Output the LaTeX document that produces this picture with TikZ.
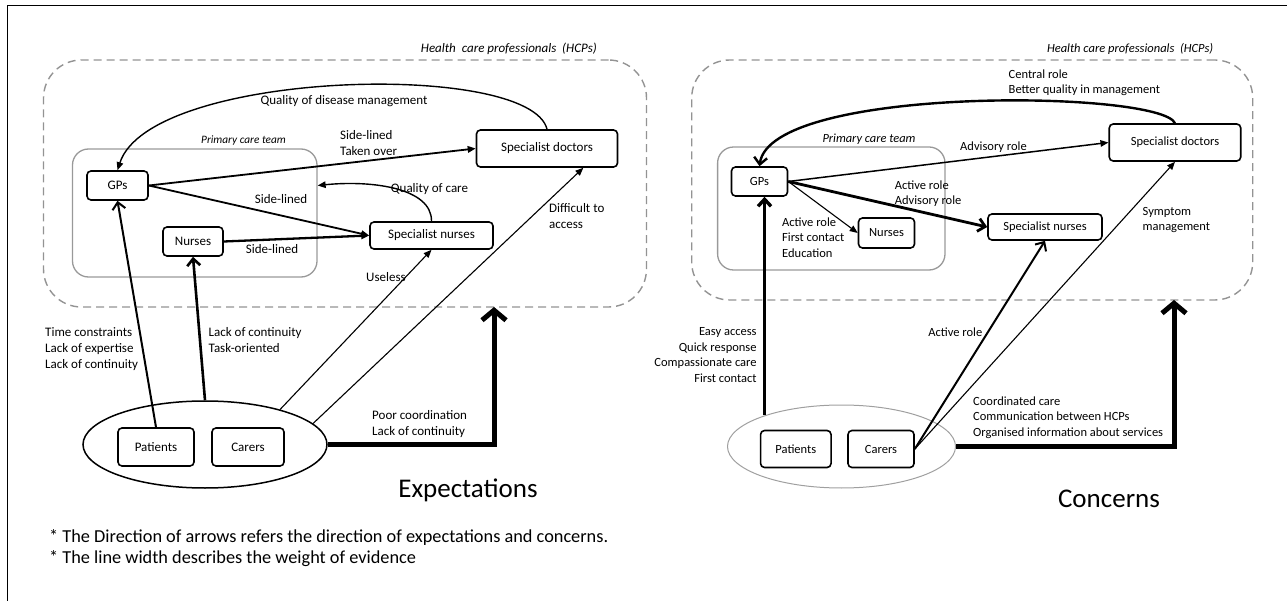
\documentclass[tikz,border=0pt]{standalone}
\usepackage{fontspec}
\setmainfont{Carlito}
\usetikzlibrary{arrows.meta,shapes.geometric}

\tikzset{
  actor/.style={draw,thick,line width=1.6pt,rounded corners=4pt,fill=white,inner sep=0pt},
  hcpzone/.style={draw=gray!85,dashed,dash pattern=on 8pt off 5pt,line width=1.4pt,rounded corners=38pt,inner sep=0pt},
  teamzone/.style={draw=gray!80,line width=1.3pt,rounded corners=16pt,inner sep=0pt},
  people/.style={ellipse,draw,inner sep=0pt},
  thin tip/.style={-{Triangle[length=8pt,width=6.5pt]}},
  barb tip/.style={-{Straight Barb[length=7pt,width=13pt]}},
  big tip/.style={-{Straight Barb[length=10pt,width=24pt]}},
}

\begin{document}
\begin{tikzpicture}[x=1pt,y=-1pt]
			\useasboundingbox (0,0) rectangle (1287,601);
			\draw[line width=1.5pt] (7.5,601) -- (7.5,5.7) -- (1287,5.7);

			% left panel: expectations
			\begin{scope}[font=\fontsize{13}{16}\selectfont]
	    		\node[hcpzone,minimum width=603,minimum height=247] (hcpL) at (345,183.5) {};
	    		\node[teamzone,minimum width=244.5,minimum height=128] (pcL) at (194.75,213) {};
	    		\node[people,line width=1.5pt,minimum width=244,minimum height=87] (peL) at (205,444.5) {};
	    		\node[actor,minimum width=61,minimum height=29] (gpL) at (117.5,185.5) {GPs};
	    		\node[actor,minimum width=60,minimum height=29] (nuL) at (193,241.5) {Nurses};
	    		\node[actor,minimum width=123,minimum height=27] (snL) at (431.5,235.5) {Specialist nurses};
	    		\node[actor,minimum width=141,minimum height=37] (sdL) at (547,148.5) {Specialist doctors};
	    		\node[actor,minimum width=76,minimum height=38] (paL) at (156,447) {Patients};
	    		\node[actor,minimum width=72,minimum height=38] (caL) at (248,447) {Carers};
			\end{scope}

			\begin{scope}[every edge/.style={draw,line width=1.5pt}]
				\draw [thin tip,line width=1.4pt] (sdL.north) .. controls (530,60) and (150,70) .. (gpL.north);
	    		\path [thin tip] (gpL.east) edge[line width=1.8pt] (sdL.west);
	    		\path [thin tip] (gpL.east) edge[line width=1.8pt] (snL.west);
	    		\path [thin tip] (nuL.east) edge[line width=2.3pt] (snL.west);
	    		\draw [thin tip,line width=1.4pt] (snL.north) .. controls (432,188) and (372,180) .. (pcL.east |- gpL);
	    		\path [barb tip] (paL.north) edge[line width=2pt] (gpL.south);
	    		\path [barb tip] (peL.north) edge[line width=2.6pt] (nuL.south);
	    		\path [thin tip] (peL.25) edge[line width=1.1pt] (snL.south);
	    		\path [thin tip] (peL.11) edge[line width=1.1pt] (sdL.-28);
	    		\coordinate (gapL) at (494,307);
	    		\draw [big tip,line width=5pt] (peL.east) -| (gapL);
			\end{scope}

			\begin{scope}[font=\fontsize{13}{16}\selectfont,inner sep=0pt,align=left]
	    		\node [anchor=east,font=\fontsize{13}{16}\selectfont\itshape] (hcpLtxt) at (597,49) {Health\ \ care professionals\ \ (HCPs)};
	    		\node [font=\fontsize{11.3}{13}\selectfont\itshape] (pcLtxt) at (243.5,141) {Primary care team};
	    		\node (qdmL) at (344,101) {Quality of disease management};
	    		\node [anchor=west] (stoL) at (340,143.5) {Side-lined\\Taken over};
	    		\node (slgL) at (281,199) {Side-lined};
	    		\node (slnL) at (272,249) {Side-lined};
	    		\node (qocL) at (429.5,189) {Quality of care};
	    		\node [anchor=west] (tcL) at (45,349) {Time constraints\\Lack of expertise\\Lack of continuity};
	    		\node [anchor=west] (lcL) at (208.5,340) {Lack of continuity\\Task-oriented};
	    		\node (usL) at (386,277) {Useless};
	    		\node [anchor=west] (dtaL) at (549,216) {Difficult to\\access};
	    		\node [anchor=west] (pcdL) at (372,424) {Poor coordination\\Lack of continuity};
	    		\node [font=\fontsize{27}{30}\selectfont] (expL) at (468,490) {Expectations};
	    		\node [anchor=west,font=\fontsize{18.3}{21}\selectfont] (noteL) at (49,548.5) {* The Direction of arrows refers the direction of expectations and concerns.\\* The line width describes the weight of evidence};
			\end{scope}

			% right panel: concerns
			\begin{scope}[font=\fontsize{12.5}{15.4}\selectfont]
	    		\node[hcpzone,minimum width=561,minimum height=240] (hcpR) at (972.2,180) {};
	    		\node[teamzone,minimum width=227.4,minimum height=123] (pcR) at (831.3,208.5) {};
	    		\node[people,draw=gray!75,line width=1pt,minimum width=228,minimum height=83] (peR) at (841.5,446.5) {};
	    		\node[actor,minimum width=56,minimum height=29] (gpR) at (759.5,181.5) {GPs};
	    		\node[actor,minimum width=56,minimum height=30] (nuR) at (886.5,233) {Nurses};
	    		\node[actor,minimum width=114,minimum height=26] (snR) at (1045,227) {Specialist nurses};
	    		\node[actor,minimum width=131.5,minimum height=37] (sdR) at (1175,142.5) {Specialist doctors};
	    		\node[actor,minimum width=70.5,minimum height=37] (paR) at (795.8,449) {Patients};
	    		\node[actor,minimum width=66,minimum height=37] (caR) at (881,449) {Carers};
			\end{scope}

			\begin{scope}[every edge/.style={draw,line width=1.5pt}]
				\draw [barb tip,line width=2.4pt] (sdR.north) .. controls (1160,90) and (770,85) .. (gpR.north);
	    		\path [thin tip] (gpR.east) edge[line width=1.5pt] (sdR.west);
	    		\path [barb tip] (gpR.east) edge[line width=2.8pt] (snR.west);
	    		\path [thin tip] (gpR.east) edge[line width=1.1pt] (nuR.west);
	    		\path [barb tip] (peR.158.6) edge[line width=3.4pt] (peR.158.6 |- gpR.south);
	    		\path [barb tip] (caR.east) edge[line width=2pt] (snR.south);
	    		\path [thin tip] (caR.east) edge[line width=1.1pt] (sdR.south);
	    		\coordinate (gapR) at (1174,300);
	    		\draw [big tip,line width=5pt] (peR.east) -| (gapR);
			\end{scope}

			\begin{scope}[font=\fontsize{12.5}{15.4}\selectfont,inner sep=0pt,align=left]
	    		\node [anchor=east,font=\fontsize{12.5}{15}\selectfont\itshape] (hcpRtxt) at (1213.5,49) {Health care professionals\ \ (HCPs)};
	    		\node [font=\fontsize{12.4}{14}\selectfont\itshape] (pcRtxt) at (869,139) {Primary care team};
	    		\node [anchor=west] (crR) at (1008.5,82.5) {Central role\\Better quality in management};
	    		\node (arR) at (993.5,147) {Advisory role};
	    		\node [anchor=west] (aarR) at (894.6,193.5) {Active role\\Advisory role};
	    		\node [anchor=west] (afeR) at (782,237.5) {Active role\\First contact\\Education};
	    		\node [anchor=east,align=right] (eaR) at (756.8,355) {Easy access\\Quick response\\Compassionate care\\First contact};
	    		\node [anchor=east] (acR) at (982.5,332) {Active role};
	    		\node [anchor=west] (smR) at (1142.5,220) {Symptom\\management};
	    		\node [anchor=west] (ccR) at (973,417.5) {Coordinated care\\Communication between HCPs\\Organised information about services};
	    		\node [font=\fontsize{27}{30}\selectfont] (conR) at (1109,499) {Concerns};
			\end{scope}
		\end{tikzpicture}
\end{document}
